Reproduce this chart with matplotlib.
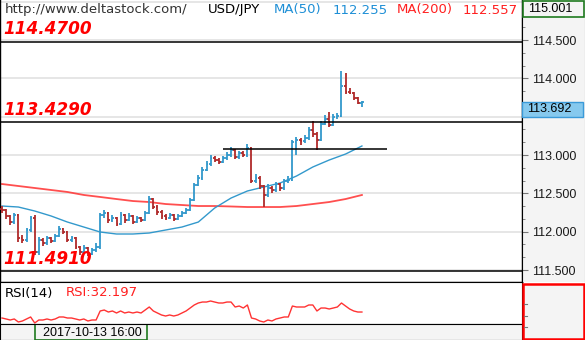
import matplotlib
matplotlib.use("Agg")
import matplotlib.pyplot as plt
import matplotlib.patches as mpatches
from matplotlib.ticker import MultipleLocator, FuncFormatter
import numpy as np

# --- dados (USD/JPY, barras OHLC) ---
closes = [
    112.283, 112.205, 112.126, 112.218, 111.918, 111.892, 112.022, 112.179, 111.735, 111.892,
    111.853, 111.918, 111.879, 111.944, 112.035, 111.996, 111.892, 111.918, 111.800, 111.735,
    111.787, 111.709, 111.761, 111.800, 112.218, 112.244, 112.153, 112.179, 112.100, 112.218,
    112.153, 112.205, 112.126, 112.179, 112.153, 112.244, 112.426, 112.322, 112.257, 112.205,
    112.179, 112.218, 112.166, 112.205, 112.244, 112.283, 112.413, 112.609, 112.700, 112.805,
    112.883, 112.961, 112.935, 112.909, 112.961, 113.000, 113.066, 112.974, 113.026, 113.000,
    113.092, 112.661, 112.700, 112.596, 112.479, 112.570, 112.544, 112.622, 112.570, 112.661,
    112.674, 113.170, 113.196, 113.183, 113.222, 113.326, 113.274, 113.196, 113.405, 113.470,
    113.392, 113.496, 113.509, 113.900, 113.820, 113.809, 113.744, 113.679, 113.692,
]
highs = [
    112.33, 112.30, 112.22, 112.25, 112.23, 111.96, 112.05, 112.21, 112.22, 111.93,
    111.92, 111.95, 111.93, 111.97, 112.07, 112.05, 112.01, 111.95, 111.93, 111.82,
    111.83, 111.80, 111.79, 111.85, 112.25, 112.28, 112.26, 112.22, 112.19, 112.26,
    112.23, 112.24, 112.22, 112.21, 112.19, 112.27, 112.46, 112.44, 112.35, 112.28,
    112.23, 112.24, 112.23, 112.23, 112.27, 112.31, 112.44, 112.64, 112.74, 112.84,
    112.92, 113.00, 112.99, 112.96, 112.99, 113.04, 113.10, 113.08, 113.05, 113.05,
    113.14, 113.10, 112.75, 112.72, 112.61, 112.62, 112.60, 112.65, 112.64, 112.69,
    112.72, 113.19, 113.24, 113.22, 113.26, 113.36, 113.45, 113.30, 113.44, 113.52,
    113.56, 113.53, 113.55, 114.09, 114.07, 113.87, 113.82, 113.76, 113.71,
]
lows = [
    112.24, 112.17, 112.09, 112.10, 111.86, 111.85, 111.87, 112.00, 111.70, 111.70,
    111.82, 111.83, 111.85, 111.86, 111.93, 111.97, 111.86, 111.86, 111.77, 111.70,
    111.72, 111.68, 111.69, 111.74, 111.78, 112.18, 112.12, 112.13, 112.07, 112.09,
    112.12, 112.14, 112.10, 112.11, 112.13, 112.14, 112.23, 112.29, 112.22, 112.17,
    112.15, 112.16, 112.14, 112.15, 112.19, 112.23, 112.27, 112.40, 112.59, 112.68,
    112.79, 112.86, 112.91, 112.88, 112.89, 112.94, 112.98, 112.95, 112.95, 112.97,
    112.98, 112.63, 112.64, 112.56, 112.32, 112.45, 112.50, 112.52, 112.53, 112.55,
    112.64, 112.66, 113.00, 113.13, 113.16, 113.20, 113.24, 113.07, 113.18, 113.39,
    113.36, 113.38, 113.47, 113.50, 113.80, 113.79, 113.72, 113.66, 113.62,
]
primeira_abertura = 112.30

# médias móveis, uma leitura a cada 4 barras
ma_barras = [0, 4, 8, 12, 16, 20, 24, 28, 32, 36, 40, 44, 48, 52, 56, 60, 64, 68, 72, 76, 80, 84, 88]
ma50 = [112.335, 112.322, 112.270, 112.205, 112.126, 112.061, 111.996, 111.970, 111.970, 111.983,
        112.022, 112.061, 112.126, 112.309, 112.439, 112.531, 112.583, 112.635, 112.726, 112.844,
        112.935, 113.013, 113.118]
ma200 = [112.622, 112.596, 112.570, 112.544, 112.518, 112.479, 112.453, 112.426, 112.400, 112.387,
         112.361, 112.348, 112.335, 112.335, 112.329, 112.322, 112.322, 112.322, 112.335, 112.361,
         112.387, 112.426, 112.479]

rsi = [
    21.7, 19.8, 17.8, 19.8, 13.9, 15.9, 19.8, 23.7, 12.0, 17.8,
    17.8, 19.8, 17.8, 19.8, 23.7, 23.7, 21.7, 21.7, 19.8, 17.8,
    19.8, 15.9, 17.8, 17.8, 35.4, 37.3, 33.4, 35.4, 31.5, 35.4,
    31.5, 33.4, 31.5, 33.4, 31.5, 37.3, 43.2, 35.4, 31.5, 27.6,
    25.6, 27.6, 25.6, 27.6, 31.5, 35.4, 41.2, 47.1, 51.0, 52.9,
    52.9, 54.9, 52.9, 51.0, 51.0, 52.9, 52.9, 43.2, 45.1, 41.2,
    47.1, 21.7, 19.8, 15.9, 13.9, 17.8, 15.9, 19.8, 21.7, 23.7,
    23.7, 45.1, 43.2, 43.2, 43.2, 47.1, 47.1, 35.4, 41.2, 41.2,
    39.3, 41.2, 43.2, 51.0, 45.1, 39.3, 35.4, 33.4, 33.4,
]

niveis = [114.4700, 113.4290, 111.4910]
nivel_curto = 113.079
nivel_curto_barras = (54.0, 94.1)

ultimo_preco = 113.692
preco_topo = "115.001"
data_cursor = "2017-10-13 16:00"

AZUL = "#3399cc"
VERMELHO = "#b02a2a"
CINZA_PAINEL = "#f4f4f4"
W, H = 585, 340

fig = plt.figure(figsize=(W / 100, H / 100), dpi=100)
fig.patch.set_facecolor("white")


def fx(px):
    return px / W


def fy(py):
    return 1 - py / H


# painel principal
ax = fig.add_axes([0, fy(282), fx(522), 282 / H])
ax.set_xlim(-0.49, 127.14)
ax.set_ylim(111.344, 115.022)
ax.set_xticks([])
ax.yaxis.set_major_locator(MultipleLocator(0.5))
ax.tick_params(axis="y", length=0, labelleft=False)
ax.grid(axis="y", color="#e6e6e6", linewidth=1.4)
ax.set_axisbelow(True)
ax.spines["top"].set_visible(False)
for lado in ("left", "right", "bottom"):
    ax.spines[lado].set_color("black")
    ax.spines[lado].set_linewidth(1.0)

closes_a = np.array(closes)
opens = np.concatenate([[primeira_abertura], closes_a[:-1]])
x = np.arange(len(closes_a))
cores = [AZUL if c >= o else VERMELHO for o, c in zip(opens, closes_a)]

ax.plot(ma_barras, ma200, color="#ff3030", alpha=0.85, linewidth=1.3, zorder=2)
ax.plot(ma_barras, ma50, color=AZUL, linewidth=1.0, zorder=2)

ax.vlines(x, lows, highs, colors=cores, linewidth=1.3, zorder=3)
ax.hlines(opens, x - 0.45, x, colors=cores, linewidth=1.3, zorder=3)
ax.hlines(closes_a, x, x + 0.45, colors=cores, linewidth=1.3, zorder=3)

for nv in niveis:
    ax.axhline(nv, color="black", linewidth=1.1, zorder=4)
ax.hlines(nivel_curto, *nivel_curto_barras, color="black", linewidth=1.1, zorder=4)

rotulo = dict(color="#ff0000", fontsize=12.2, fontweight="bold", fontstyle="italic",
              transform=fig.transFigure, va="center", ha="left")
fig.text(fx(3), fy(29), "114.4700", **rotulo)
fig.text(fx(3), fy(110), "113.4290", **rotulo)
fig.text(fx(3), fy(259), "111.4910", **rotulo)

# cabeçalho
cab = dict(fontsize=9.5, va="center", ha="left", transform=fig.transFigure)
fig.text(fx(5), fy(10), "http://www.deltastock.com/", color="#333333", **cab)
fig.text(fx(208), fy(10), "USD/JPY", color="black", **cab)
fig.text(fx(274), fy(10), "MA(50)", color="#1e8fd6", **cab)
fig.text(fx(333), fy(10), "112.255", color="#1e8fd6", **cab)
fig.text(fx(397), fy(10), "MA(200)", color="#ff2020", **cab)
fig.text(fx(463), fy(10), "112.557", color="#ff2020", **cab)

# escala de preços à direita
ocultos = (115.0, 113.5)  # escondidos sob as caixas


def fmt_preco(v, pos):
    if any(abs(v - o) < 1e-6 for o in ocultos):
        return ""
    return f"{v:.3f}"


esc = fig.add_axes([fx(522), fy(282), fx(63), 282 / H], facecolor=CINZA_PAINEL)
esc.set_ylim(ax.get_ylim())
esc.set_xticks([])
esc.yaxis.set_major_locator(MultipleLocator(0.5))
esc.yaxis.set_minor_locator(MultipleLocator(0.5 / 3))
esc.yaxis.set_major_formatter(FuncFormatter(fmt_preco))
esc.tick_params(axis="y", which="major", direction="in", length=4, color="#777777",
                pad=-7, labelsize=9, labelcolor="#1a1a1a")
esc.tick_params(axis="y", which="minor", direction="in", length=2.5, color="#777777")
for lab in esc.get_yticklabels():
    lab.set_horizontalalignment("left")
    lab.set_fontfamily("Liberation Sans")
for lado in ("top", "bottom"):
    esc.spines[lado].set_visible(False)
esc.spines["left"].set_color("black")
esc.spines["right"].set_color("#888888")

esc.add_patch(mpatches.Rectangle((0.01, 1 - 17 / 282), 0.97, 16 / 282, transform=esc.transAxes,
                                 facecolor=CINZA_PAINEL, edgecolor="#1f7a1f", linewidth=1.2,
                                 zorder=5, clip_on=False))
esc.text(0.1, 1 - 9 / 282, preco_topo, transform=esc.transAxes, fontsize=9,
         family="Liberation Sans", va="center", ha="left", zorder=6)

esc.add_patch(mpatches.Rectangle((0.0, ultimo_preco - 15 / 76.67), 0.97, 15 / 76.67,
                                 transform=esc.get_yaxis_transform(), facecolor="#86c9ee",
                                 edgecolor="#3a9ad9", linewidth=1.0, zorder=5, clip_on=False))
esc.text(0.08, ultimo_preco - 7.5 / 76.67, f"{ultimo_preco:.3f}",
         transform=esc.get_yaxis_transform(), fontsize=9, family="Liberation Sans",
         va="center", ha="left", zorder=6)

# painel RSI
ax_rsi = fig.add_axes([0, fy(324), fx(522), 42 / H])
ax_rsi.set_xlim(ax.get_xlim())
ax_rsi.set_ylim(10, 92)
ax_rsi.set_xticks([])
ax_rsi.set_yticks([])
ax_rsi.plot(x, rsi, color="#ff3333", linewidth=1.0)
for sp in ax_rsi.spines.values():
    sp.set_color("black")
fig.text(fx(5), fy(293), "RSI(14)", color="black", **cab)
fig.text(fx(66), fy(293), "RSI:32.197", color="#ff2020", **cab)

# caixa vermelha do RSI na escala
fig.patches.append(mpatches.Rectangle((fx(523), fy(339)), fx(61), 55 / H, transform=fig.transFigure,
                                      facecolor=CINZA_PAINEL, edgecolor="#ff0000", linewidth=1.8))
for py in (304, 316, 327):
    fig.lines.append(plt.Line2D([fx(524), fx(527)], [fy(py), fy(py)], transform=fig.transFigure,
                                color="#777777", linewidth=0.8))

# faixa de datas
ax_dt = fig.add_axes([0, 0, fx(522), 16 / H], facecolor=CINZA_PAINEL)
ax_dt.set_xticks([])
ax_dt.set_yticks([])
for sp in ax_dt.spines.values():
    sp.set_color("black")
ax_dt.add_patch(mpatches.Rectangle((35 / 522, 0), 112 / 522, 1, transform=ax_dt.transAxes,
                                   facecolor=CINZA_PAINEL, edgecolor="#1f7a1f", linewidth=1.2))
ax_dt.text((36 + 56) / 522, 0.45, data_cursor, transform=ax_dt.transAxes, fontsize=9,
           family="Liberation Sans", ha="center", va="center")

fig.savefig("out.png", dpi=100)
